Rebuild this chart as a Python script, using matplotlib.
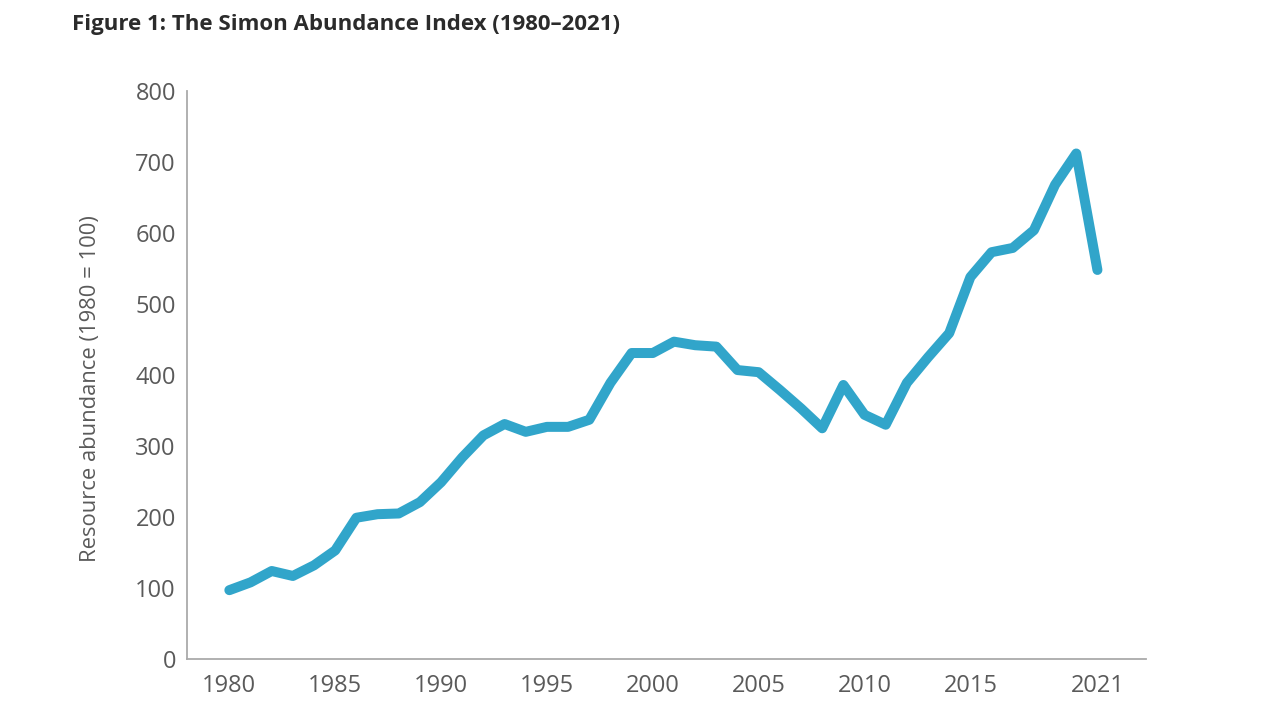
import matplotlib
matplotlib.use('Agg')
import matplotlib.pyplot as plt

# Simon Abundance Index values (1980 = 100)
years = list(range(1980, 2022))
index = [97, 108, 124, 117, 132, 153, 199, 204, 205, 221,
         249, 284, 315, 331, 320, 327, 327, 337, 389, 431,
         431, 447, 442, 440, 407, 404, 379, 353, 325, 386,
         344, 330, 389, 425, 459, 538, 573, 579, 604, 668,
         712, 548]
xtick_years = [1980, 1985, 1990, 1995, 2000, 2005, 2010, 2015, 2021]
ytick_vals = [0, 100, 200, 300, 400, 500, 600, 700, 800]

line_color = '#31a5ca'
text_grey = '#5a5a5a'
spine_grey = '#aaaaaa'

plt.rcParams['font.family'] = ['Open Sans', 'DejaVu Sans']

fig = plt.figure(figsize=(12.67, 7.19), dpi=100)
ax = fig.add_axes([0.1476, 0.0834, 0.757, 0.79])

ax.plot(years, index, color=line_color, lw=7.2,
        solid_joinstyle='round', solid_capstyle='round')

ax.set_xlim(1978.0, 2023.3)
ax.set_ylim(0, 800)
ax.set_xticks(xtick_years)
ax.set_yticks(ytick_vals)
ax.tick_params(length=0, labelsize=17, labelcolor=text_grey)
ax.tick_params(axis='y', pad=8)
ax.tick_params(axis='x', pad=11)

for s in ['top', 'right']:
    ax.spines[s].set_visible(False)
for s in ['left', 'bottom']:
    ax.spines[s].set_color(spine_grey)
    ax.spines[s].set_linewidth(1.3)

ax.set_ylabel('Resource abundance (1980 = 100)', fontsize=15.8,
              color=text_grey)
# label sits a little below the axis centre in the original
ax.yaxis.set_label_coords(-0.0897, 0.477)

fig.text(0.057, 0.966, 'Figure 1: The Simon Abundance Index (1980\u20132021)',
         fontsize=16, fontweight='bold', color='#2b2b2b',
         ha='left', va='center')

fig.savefig('out.png', dpi=100)
